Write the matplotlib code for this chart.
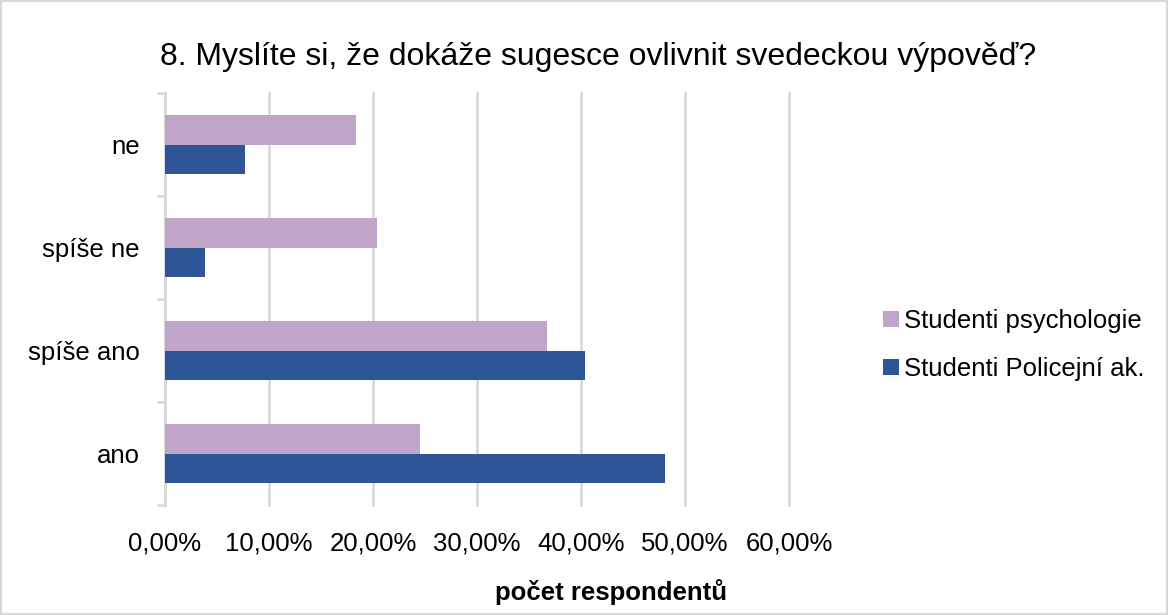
import numpy as np
import matplotlib.pyplot as plt
from matplotlib.patches import Rectangle
from matplotlib.ticker import FuncFormatter, FixedLocator

plt.rcParams['font.family'] = ['Liberation Sans', 'DejaVu Sans']

categories = ['ano', 'spíše ano', 'spíše ne', 'ne']
psych = [24.49, 36.73, 20.41, 18.37]
police = [48.08, 40.38, 3.85, 7.69]
series_names = ['Studenti psychologie', 'Studenti Policejní ak.']
title = '8. Myslíte si, že dokáže sugesce ovlivnit svedeckou výpověď?'
xlabel = 'počet respondentů'

col_psych = '#bfa6c9'
col_police = '#2e5595'

fig = plt.figure(figsize=(11.69, 6.15), dpi=100)
ax = fig.add_axes([165 / 1169, 1 - 505 / 615, 624 / 1169, 412 / 615])

y = np.arange(len(categories))
h = 0.29
ax.barh(y + h / 2, psych, height=h, color=col_psych, label=series_names[0], zorder=3)
ax.barh(y - h / 2, police, height=h, color=col_police, label=series_names[1], zorder=3)

ax.set_xlim(0, 60)
ax.set_ylim(-0.5, len(categories) - 0.5)
ax.set_xticks(np.arange(0, 61, 10))
ax.xaxis.set_major_formatter(FuncFormatter(lambda v, p: f'{v:.2f}%'.replace('.', ',')))
ax.grid(axis='x', color='#d9d9d9', linewidth=2, zorder=0)
for gl in ax.get_xgridlines():
    gl.set_clip_on(False)

ax.yaxis.set_major_locator(FixedLocator(np.arange(-0.5, len(categories), 1)))
ax.yaxis.set_minor_locator(FixedLocator(y))
ax.set_yticklabels([], minor=False)
ax.set_yticklabels(categories, minor=True)
ax.tick_params(axis='y', which='major', length=6, width=2, color='#d9d9d9')
ax.tick_params(axis='y', which='minor', length=0, pad=18, labelsize=18.5)
ax.tick_params(axis='x', length=0, pad=19, labelsize=18.5)

for s in ['top', 'right', 'bottom']:
    ax.spines[s].set_visible(False)
ax.spines['left'].set_color('#d9d9d9')
ax.spines['left'].set_linewidth(2)

handles, labels = ax.get_legend_handles_labels()
fig.legend(handles, labels, loc='center left', bbox_to_anchor=(860 / 1169, 1 - 345 / 615),
           frameon=False, fontsize=18.5, handlelength=0.6, handleheight=0.6,
           handletextpad=0.2, labelspacing=0.95)

fig.text(598 / 1169, 1 - 57 / 615, title, ha='center', va='center', fontsize=23)
fig.text(611 / 1169, 1 - 592 / 615, xlabel, ha='center', va='center', fontsize=18.5,
         fontweight='bold')

fig.patches.append(Rectangle((0.001, 0.002), 0.997, 0.996, transform=fig.transFigure,
                             fill=False, edgecolor='#d9d9d9', linewidth=1.5))

fig.savefig('out.png', dpi=100)
